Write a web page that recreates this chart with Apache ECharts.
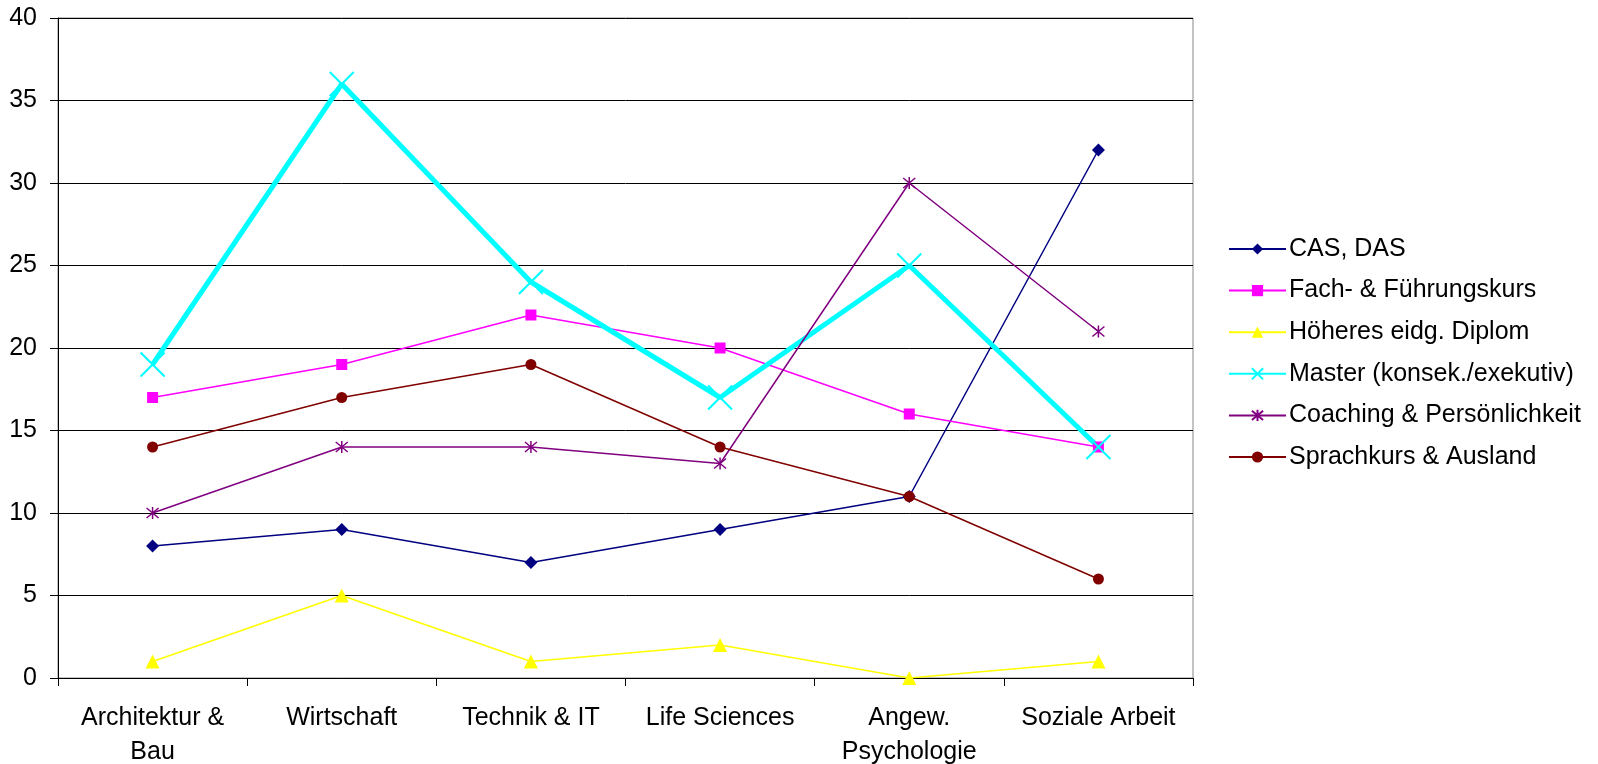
<!DOCTYPE html>
<html><head><meta charset="utf-8">
<script src="https://cdn.jsdelivr.net/npm/echarts@6/dist/echarts.min.js"></script>
<style>html,body{margin:0;padding:0;background:#fff}#c{width:1598px;height:764px}</style>
</head><body><div id="c"></div>
<script>
const categories = ['Architektur &\nBau', 'Wirtschaft', 'Technik & IT', 'Life Sciences', 'Angew.\nPsychologie', 'Soziale Arbeit'];
const casDas = [8, 9, 7, 9, 11, 32];
const fachFuehrung = [17, 19, 22, 20, 16, 14];
const hoeheresDiplom = [1, 5, 1, 2, 0, 1];
const master = [19, 36, 24, 17, 25, 14];
const coaching = [10, 14, 14, 13, 30, 21];
const sprachkurs = [14, 17, 19, 14, 11, 6];
const yTicks = [0, 5, 10, 15, 20, 25, 30, 35, 40];

const X_PATH = 'path://M0,0L10,10M10,0L0,10';
const STAR_PATH = 'path://M0,0L10,10M10,0L0,10M5,-1L5,11';
const font = '"Liberation Sans", Arial, sans-serif';

function s(name, data, color, symbol, size, width, stroke) {
  return {
    name, type: 'line', data, symbol, symbolSize: size,
    lineStyle: { color, width },
    itemStyle: stroke ? { color: 'rgba(0,0,0,0)', borderColor: color, borderWidth: stroke } : { color, borderWidth: 0 },
    emphasis: { disabled: true }, animation: false
  };
}

const chart = echarts.init(document.getElementById('c'));
chart.setOption({
  animation: false,
  grid: { left: 58, right: 405, top: 18, bottom: 86, outerBoundsMode: 'none', containLabel: false, show: true, borderColor: '#888', borderWidth: 1 },
  legend: {
    orient: 'vertical', left: 1223, top: 231, itemWidth: 57, itemHeight: 14, itemGap: 15.6,
    textStyle: { fontFamily: font, fontSize: 25, lineHeight: 26, color: '#000', padding: [0, 0, 0, -2] },
    data: ['CAS, DAS', 'Fach- & Führungskurs', 'Höheres eidg. Diplom', 'Master (konsek./exekutiv)', 'Coaching & Persönlichkeit', 'Sprachkurs & Ausland']
  },
  xAxis: {
    type: 'category', data: categories, boundaryGap: true,
    axisLine: { lineStyle: { color: '#000', width: 1 } },
    axisTick: { show: true, length: 8, lineStyle: { color: '#000' } },
    axisLabel: { fontFamily: font, fontSize: 25, color: '#000', lineHeight: 34, margin: 23, interval: 0 }
  },
  yAxis: {
    type: 'value', min: yTicks[0], max: yTicks[yTicks.length - 1], interval: 5,
    axisLine: { show: true, lineStyle: { color: '#000', width: 1 } },
    axisTick: { show: true, length: 8, lineStyle: { color: '#000' } },
    axisLabel: { fontFamily: font, fontSize: 25, color: '#000', margin: 21 },
    splitLine: { show: true, lineStyle: { color: '#000', width: 1 } }
  },
  series: [
    s('CAS, DAS', casDas, '#000080', 'diamond', 13, 1.5),
    s('Fach- & Führungskurs', fachFuehrung, '#FF00FF', 'rect', 11, 1.5),
    s('Höheres eidg. Diplom', hoeheresDiplom, '#FFFF00', 'triangle', 14, 1.5),
    s('Master (konsek./exekutiv)', master, '#00FFFF', X_PATH, 24, 5, 2),
    s('Coaching & Persönlichkeit', coaching, '#800080', STAR_PATH, 12, 1.5, 1.5),
    s('Sprachkurs & Ausland', sprachkurs, '#800000', 'circle', 11, 1.5)
  ]
});
</script></body></html>
